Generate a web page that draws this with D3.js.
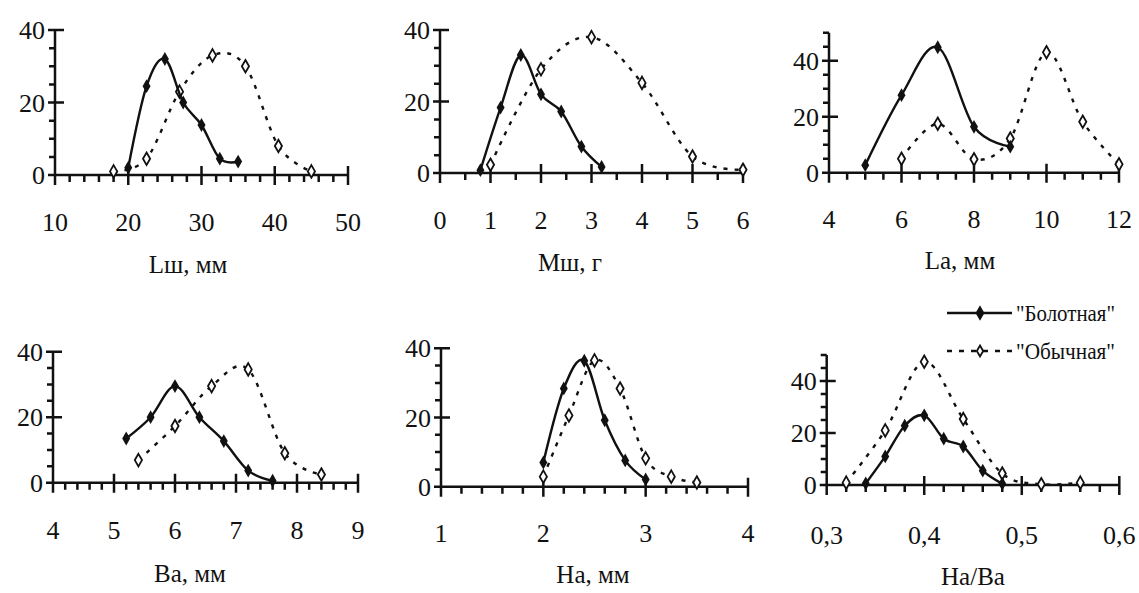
<!DOCTYPE html>
<html>
<head>
<meta charset="utf-8">
<script src="https://cdn.jsdelivr.net/npm/d3@7/dist/d3.min.js"></script>
<style>
  html, body { margin: 0; padding: 0; background: #fff; }
  svg { display: block; }
</style>
</head>
<body>
<svg id="chart" width="1139" height="593"></svg>
<script>
// ---- Data: frequency (%) by class for the two forms ----
// Lш, мм (shell length)
const lshBolX = [20, 22.5, 25, 27.5, 30, 32.5, 35];
const lshBolY = [2, 24.5, 32, 20, 13.8, 4.5, 3.7];
const lshObX  = [18, 22.5, 27, 31.5, 36, 40.5, 45];
const lshObY  = [1, 4.5, 23, 33, 30, 8, 1];
const lshTicks = [10, 20, 30, 40, 50];

// Mш, г (shell mass)
const mshBolX = [0.8, 1.2, 1.6, 2.0, 2.4, 2.8, 3.2];
const mshBolY = [0.8, 18.3, 33, 22, 17.2, 7.4, 1.7];
const mshObX  = [1, 2, 3, 4, 5, 6];
const mshObY  = [2.3, 29, 38, 25.2, 4.6, 0.9];
const mshTicks = [0, 1, 2, 3, 4, 5, 6];

// La, мм (aperture length)
const laBolX = [5, 6, 7, 8, 9];
const laBolY = [2.7, 27.7, 44.8, 16.4, 9.3];
const laObX  = [6, 7, 8, 9, 10, 11, 12];
const laObY  = [5, 17.5, 4.8, 12.2, 43, 18.2, 3];
const laTicks = [4, 6, 8, 10, 12];

// Ba, мм (aperture width)
const baBolX = [5.2, 5.6, 6.0, 6.4, 6.8, 7.2, 7.6];
const baBolY = [13.5, 20, 29.5, 20, 12.7, 3.7, 0.6];
const baObX  = [5.4, 6.0, 6.6, 7.2, 7.8, 8.4];
const baObY  = [6.9, 17.3, 29.5, 34.6, 9, 2.5];
const baTicks = [4, 5, 6, 7, 8, 9];

// Ha, мм (aperture height)
const haBolX = [2.0, 2.2, 2.4, 2.6, 2.8, 3.0];
const haBolY = [7, 28.4, 36.4, 19.2, 7.6, 2.1];
const haObX  = [2.0, 2.25, 2.5, 2.75, 3.0, 3.25, 3.5];
const haObY  = [2.9, 20.6, 36.5, 28.4, 8.2, 2.9, 1.2];
const haTicks = [1, 2, 3, 4];

// Ha/Ba (aperture height to width ratio)
const hbBolX = [0.34, 0.36, 0.38, 0.40, 0.42, 0.44, 0.46, 0.48];
const hbBolY = [0.6, 11, 22.8, 26.8, 17.8, 14.8, 5.5, 0.5];
const hbObX  = [0.32, 0.36, 0.40, 0.44, 0.48, 0.52, 0.56];
const hbObY  = [0.9, 21, 47.4, 25.4, 4.4, 0.3, 0.9];
const hbTicks = [0.3, 0.4, 0.5, 0.6];

const yTicks = [0, 20, 40];
const seriesNames = ['"Болотная"', '"Обычная"'];

// ---- Panel layout ----
const panels = [
  { title: "Lш, мм", xDom: [10, 50], xMinor: 2,   yMax: 40, xTicks: lshTicks, fmt: d3.format("d"),
    px: [55, 348],  py: [175, 30],    labelY: 231, titleX: 188, titleY: 273,
    bol: [lshBolX, lshBolY], ob: [lshObX, lshObY] },
  { title: "Mш, г",  xDom: [0, 6],   xMinor: 0.5, yMax: 40, xTicks: mshTicks, fmt: d3.format("d"),
    px: [440, 743], py: [173, 30],    labelY: 229, titleX: 570, titleY: 271,
    bol: [mshBolX, mshBolY], ob: [mshObX, mshObY] },
  { title: "La, мм", xDom: [4, 12],  xMinor: 0.5, yMax: 50, xTicks: laTicks, fmt: d3.format("d"),
    px: [829, 1119], py: [172.7, 32.7], labelY: 228, titleX: 960, titleY: 269,
    bol: [laBolX, laBolY], ob: [laObX, laObY] },
  { title: "Ba, мм", xDom: [4, 9],   xMinor: 0.2, yMax: 40, xTicks: baTicks, fmt: d3.format("d"),
    px: [53, 358],  py: [482.7, 351.7], labelY: 539, titleX: 190, titleY: 582,
    bol: [baBolX, baBolY], ob: [baObX, baObY] },
  { title: "Ha, мм", xDom: [1, 4],   xMinor: 0.2, yMax: 40, xTicks: haTicks, fmt: d3.format("d"),
    px: [441, 748], py: [486.7, 348.3], labelY: 542, titleX: 593, titleY: 583,
    bol: [haBolX, haBolY], ob: [haObX, haObY] },
  { title: "Ha/Ba",  xDom: [0.3, 0.6], xMinor: 0.02, yMax: 50, xTicks: hbTicks, fmt: d => d3.format(".1f")(d).replace(".", ","),
    px: [826.7, 1119.3], py: [485, 355], labelY: 544, titleX: 973, titleY: 585,
    bol: [hbBolX, hbBolY], ob: [hbObX, hbObY] }
];

const svg = d3.select("#chart");
const ink = "#111";
const serif = "Liberation Serif";
const smooth = d3.curveCatmullRom.alpha(0);
const diamond = d3.symbol().type(d3.symbolDiamond);

panels.forEach(p => {
  const x = d3.scaleLinear().domain(p.xDom).range(p.px);
  const y = d3.scaleLinear().domain([0, p.yMax]).range([p.py[0], p.py[1]]);
  const g = svg.append("g");
  const y0 = y(0);
  const xLeft = x(p.xDom[0]);

  const xMinorVals = d3.range(p.xDom[0], p.xDom[1] + p.xMinor / 2, p.xMinor)
    .filter(v => !p.xTicks.some(t => Math.abs(t - v) < p.xMinor / 10));
  const yMinorVals = d3.range(5, p.yMax + 0.1, 5).filter(v => v % 20 !== 0);

  // axes with tick marks: minor ticks below / left, major ticks crossing the axis
  let d = `M${xLeft},${y0}H${x(p.xDom[1])}`;
  d += `M${xLeft},${y0 + 10}V${y(p.yMax)}`;
  xMinorVals.forEach(v => { d += `M${x(v)},${y0}v7`; });
  p.xTicks.forEach(v => { d += `M${x(v)},${y0 - 9}v19`; });
  yMinorVals.forEach(v => { d += `M${xLeft},${y(v)}h-6`; });
  yTicks.forEach(v => { d += `M${xLeft - 7},${y(v)}h16`; });
  g.append("path").attr("d", d).attr("fill", "none")
    .attr("stroke", ink).attr("stroke-width", 2.5);

  // tick labels
  g.selectAll("text.xl").data(p.xTicks).join("text").attr("class", "xl")
    .attr("x", v => x(v)).attr("y", p.labelY)
    .attr("text-anchor", "middle").attr("font-size", 26).attr("font-family", serif)
    .attr("fill", ink).text(p.fmt);
  g.selectAll("text.yl").data(yTicks).join("text").attr("class", "yl")
    .attr("x", xLeft - 10).attr("y", v => y(v) + 9)
    .attr("text-anchor", "end").attr("font-size", 26).attr("font-family", serif)
    .attr("fill", ink).text(v => v);

  // axis title
  g.append("text").attr("x", p.titleX).attr("y", p.titleY)
    .attr("text-anchor", "middle").attr("font-size", 25).attr("font-family", serif)
    .attr("fill", ink).text(p.title);

  // series: dashed "Обычная" under solid "Болотная"
  const line = d3.line().x(q => x(q[0])).y(q => y(q[1])).curve(smooth);
  const obPts = p.ob[0].map((v, i) => [v, p.ob[1][i]]);
  const bolPts = p.bol[0].map((v, i) => [v, p.bol[1][i]]);

  g.append("path").datum(obPts).attr("d", line)
    .attr("fill", "none").attr("stroke", ink).attr("stroke-width", 2.4)
    .attr("stroke-dasharray", "4,7");
  g.selectAll("path.om").data(obPts).join("path").attr("class", "om")
    .attr("transform", q => `translate(${x(q[0])},${y(q[1])})`)
    .attr("d", diamond.size(45)).attr("fill", "#fff").attr("stroke", ink).attr("stroke-width", 1.8);

  g.append("path").datum(bolPts).attr("d", line)
    .attr("fill", "none").attr("stroke", ink).attr("stroke-width", 2.4);
  g.selectAll("path.bm").data(bolPts).join("path").attr("class", "bm")
    .attr("transform", q => `translate(${x(q[0])},${y(q[1])})`)
    .attr("d", diamond.size(55)).attr("fill", ink);
});

// ---- Legend ----
const leg = svg.append("g");
const legRows = [
  { name: seriesNames[0], y: 313, dash: null, fill: ink, size: 40 },
  { name: seriesNames[1], y: 351, dash: "5,7", fill: "#fff", size: 35 }
];
legRows.forEach(r => {
  leg.append("line").attr("x1", 947).attr("x2", 1012).attr("y1", r.y).attr("y2", r.y)
    .attr("stroke", ink).attr("stroke-width", 2.6).attr("stroke-dasharray", r.dash);
  leg.append("path").attr("transform", `translate(980,${r.y})`)
    .attr("d", diamond.size(r.size)).attr("fill", r.fill).attr("stroke", ink).attr("stroke-width", 1.8);
  leg.append("text").attr("x", 1016).attr("y", r.y + 8).attr("font-family", serif).attr("fill", ink)
    .attr("font-size", 23).attr("textLength", 99).attr("lengthAdjust", "spacingAndGlyphs")
    .text(r.name);
});
</script>
</body>
</html>
